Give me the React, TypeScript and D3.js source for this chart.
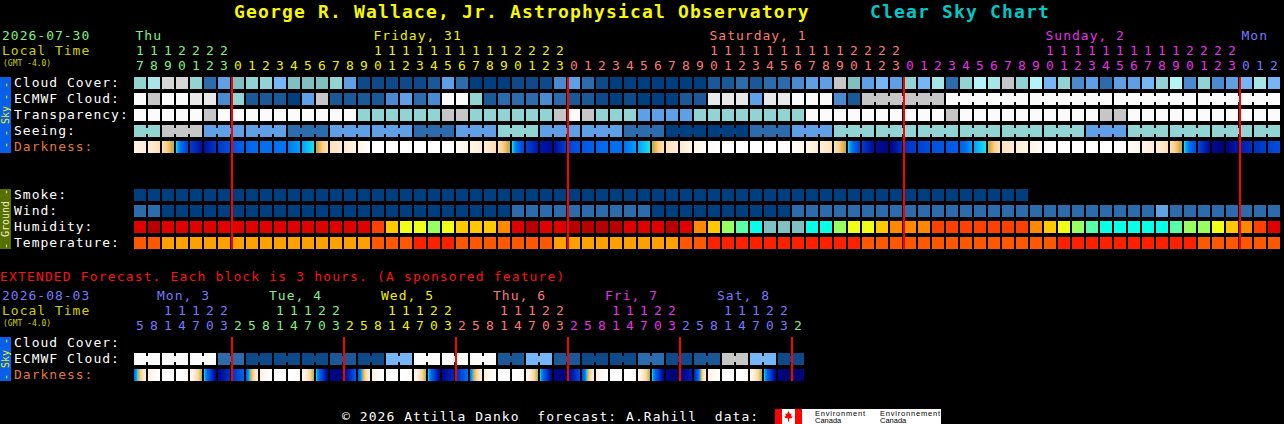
import * as React from 'react';
import * as d3 from 'd3';

const FONT = '"DejaVu Sans Mono", monospace';

// ---------------------------------------------------------------- text
const title = 'George R. Wallace, Jr. Astrophysical Observatory';
const chartName = 'Clear Sky Chart';
const extendedNote = 'EXTENDED Forecast. Each block is 3 hours. (A sponsored feature)';
const footer = '\u00a9 2026 Attilla Danko  forecast: A.Rahill  data:';

// ---------------------------------------------------------------- main (hourly)
const mainStart = new Date(2026, 6, 30, 17);
const mainDateLabel = '2026-07-30';
const mainDayLabels = ['Thu', 'Friday, 31', 'Saturday, 1', 'Sunday, 2', 'Mon'];

// sky condition codes, see skyColors
const cloudCover = [
  ...('89hh835788' + '6777851111' + '1253000111' + '4531000000' + '0223233455' +
    'g756586938' + 'a9g8a68453' + '5568a48456' + '96'),
];
const ecmwfCloud = [
  ...('wgwwii4822' + '205g222245' + '34ww823334' + '3221010002' + '2iii5iiwww' +
    '42ggggggww' + 'wwwwwwwwww' + 'wwwwwwwwww' + 'ww'),
];
const transparency = [
  ...('wwwwwg' + 'wwwwwwwwww' + '888888gg888888' + 'gwg888' + '5555' + '88888888' +
    'wwwwwwwwww' + 'g' + 'wwwwwwwwww' + 'gg' + 'wwwwwwwwwww'),
];
const seeing = [
  ...('88ggg555555333555555333555888' + '555555333000000333555' +
    '888888888888888888' + '555' + '88888888888'),
];
// darkness at each hour boundary (0 = daylight ... 9 = darkest)
const darkness = [
  1.0, 1.6, 2.3, 4.0, 6.6, 8.0, 6.8, 6.0, 5.4, 5.0, 5.0, 4.9, 4.4, 4.0, 2.2, 1.8, 1.0,
  0, 0, 0, 0, 0, 0, 0.3, 1.0, 1.6, 2.3, 4.0, 6.4, 7.8, 8.2, 6.4, 5.8, 5.4, 5.0, 5.0,
  4.4, 4.0, 2.2, 1.7, 0.9, 0.2, 0, 0, 0, 0, 0, 0.2, 0.9, 1.5, 2.2, 4.0, 6.6, 8.2, 8.6,
  7.0, 6.5, 6.0, 5.8, 5.5, 4.4, 4.0, 2.2, 1.7, 1.0, 0.3, 0, 0, 0, 0, 0, 0.2, 0.9, 1.6,
  2.3, 4.0, 6.2, 8.3, 8.8, 7.6, 7.0, 6.5, 6.0,
];
// ground: smoke ug/m3, wind mph, humidity %, temperature C
const smoke = [
  1, 1, 1, 1, 1, 1, 1, 1, 1, 1, 1, 1, 1, 1, 1, 1, 1, 1, 1, 1, 1, 1, 1, 1, 1, 1, 1, 1, 1, 1, 1, 1,
  1, 1, 1, 1, 1, 1, 1, 1, 1, 1, 1, 1, 1, 1, 1, 1, 1, 1, 1, 1, 1, 1, 1, 1, 1, 1, 1, 1, 1, 1, 1, 1,
];
const wind = [
  7, 8, 5, 4, 4, 3, 3, 3, 2, 2, 2, 2, 3, 3, 4, 4, 5, 5, 5, 4, 4, 4, 3, 3, 3, 4, 5,
  6, 7, 7, 8, 8, 8, 7, 7, 6, 6, 5, 5, 4, 4, 4, 3, 3, 4, 4, 5,
  6, 7, 7, 8, 8, 9, 9, 9, 8, 8, 8, 7, 7, 7, 8, 8, 9, 9, 10, 10, 11, 11, 10, 10, 11, 11,
  12, 11, 10, 10, 9, 9, 8, 8, 7,
];
const humidity = [
  91, 96, 90, 91, 92, 93, 93, 94, 94, 94, 93, 92, 91, 90, 89, 88, 86,
  82, 73, 68, 66, 63, 66, 71, 73, 74, 78,
  86, 95, 92, 93, 96, 97, 97, 96, 94, 92, 90, 95, 88,
  79, 71, 61, 57, 53, 48, 46, 47, 51, 54,
  62, 66, 69, 72, 76, 78, 79, 81, 82, 83, 83, 84, 84, 83,
  79, 74, 68, 63, 58, 54, 52, 51, 52, 54, 56, 61, 64, 67, 72, 77, 82, 87,
];
const temperature = [
  25, 25, 23, 23, 22, 22, 21, 21, 21, 20, 20, 20, 20, 21, 22, 23, 23,
  25, 26, 26, 27, 28, 28, 26, 26, 25, 25, 24, 24, 24,
  23, 23, 22, 22, 21, 21, 21, 22, 23, 25, 26,
  27, 28, 29, 29, 30, 30, 30, 29, 29, 28, 27,
  26, 26, 25, 25, 25, 24, 24, 24, 24, 24, 25, 25, 26, 26,
  27, 28, 29, 30, 30, 30, 29, 29, 28, 27, 26, 26, 25, 25, 24, 24,
];

// ---------------------------------------------------------------- extended (3 h blocks)
const extStart = new Date(2026, 7, 3, 5);
const extDateLabel = '2026-08-03';
const extDayLabels = ['Mon, 3', 'Tue, 4', 'Wed, 5', 'Thu, 6', 'Fri, 7', 'Sat, 8', ''];
const extEcmwfCloud = [...'wwwwww33111111221166wwwwww2266221111331122gg6611'];
const extDarkness = [
  5.2, 1.2, 0, 0, 0.3, 4.0, 8.5, 7.0, 5.4, 1.2, 0, 0, 0.3, 4.0, 8.6, 8.6, 5.6, 1.2, 0, 0,
  0.3, 4.0, 8.5, 7.2, 5.0, 1.2, 0, 0, 0.3, 4.0, 8.6, 8.6, 6.0, 1.2, 0, 0, 0.3, 4.0, 8.6,
  8.8, 7.5, 1.2, 0, 0, 0.3, 4.0, 8.6, 8.8, 8.6,
];

// ---------------------------------------------------------------- styles
const skyColors: Record<string, string> = {
  '0': '#003f7f', '1': '#0e4a8a', '2': '#1a5898', '3': '#2c6cac', '4': '#4a8ad0',
  '5': '#5f9fe5', '6': '#76b6f6', '7': '#80c0c0', '8': '#92d4d4', '9': '#a6e6e6',
  a: '#b4f4f4', g: '#c6c6c6', h: '#d6d6d6', i: '#e8e8e8', w: '#fbfbfb',
};
const dayColors = ['#80f080', '#f0f000', '#ff7878', '#e830e8', '#7878ff'];

const darkColor = d3
  .scaleLinear<string>()
  .domain([0, 1, 2, 3, 3.8, 4.0, 4.4, 5.0, 5.5, 6.0, 6.5, 7.0, 7.5, 8.0, 8.5, 9.0])
  .range([
    '#ffffff', '#fff5e6', '#fde6c6', '#f9d08e', '#f0a020', '#20e0e0', '#00a0ff', '#0070f0',
    '#0060e8', '#0050e0', '#0040d0', '#0030c0', '#0020b0', '#0010a0', '#000888', '#000060',
  ])
  .clamp(true);

const smokeColor = d3.scaleThreshold<number, string>().domain([2]).range(['#003f7f', '#2c6cac']);
const windColor = d3
  .scaleThreshold<number, string>()
  .domain([6, 12])
  .range(['#003f7f', '#2c6cac', '#62a2e2']);
const humidityColor = d3
  .scaleThreshold<number, string>()
  .domain([50, 55, 60, 65, 70, 75, 80, 85, 95])
  .range([
    '#80c0c0', '#08ffe8', '#58ffa8', '#98ff60', '#f0ff18', '#ffc800', '#ff8800', '#ff4000',
    '#e00000', '#b80000',
  ]);
const tempColor = d3
  .scaleThreshold<number, string>()
  .domain([24, 27])
  .range(['#ffa000', '#ff5800', '#ff2000']);

const BH = 12;
const X0 = 134;
const STEP = 14;

const bandFor = (n: number) =>
  d3
    .scaleBand<number>()
    .domain(d3.range(n))
    .range([X0, X0 + n * STEP - 2])
    .paddingInner(2 / STEP)
    .paddingOuter(0);

const dayColorOf = (d: Date) =>
  dayColors[d3.timeDay.count(d3.timeDay.floor(mainStart), d) % dayColors.length];

type Band = d3.ScaleBand<number>;

interface RowProps<T> {
  x: Band;
  y: number;
  values: T[];
  color: (v: T) => string;
  group?: (i: number) => number;
}

function BlockRow<T>({ x, y, values, color, group }: RowProps<T>) {
  const bw = x.bandwidth();
  return (
    <g shapeRendering="crispEdges">
      {values.map((v, i) => (
        <rect key={i} x={x(i)} y={y} width={bw} height={BH} fill={color(v)} />
      ))}
      {group &&
        values.map((v, i) =>
          i < values.length - 1 && group(i) === group(i + 1) && values[i + 1] === v ? (
            <rect
              key={`b${i}`}
              x={x(i)! + bw}
              y={y + 3}
              width={x.step() - bw}
              height={6}
              fill={color(v)}
            />
          ) : null
        )}
    </g>
  );
}

const DarkRow = ({ x, y, edges, id }: { x: Band; y: number; edges: number[]; id: string }) => {
  const stops = d3.range(0, 1.0001, 0.1);
  return (
    <g shapeRendering="crispEdges">
      <defs>
        {edges.slice(0, -1).map((v, i) => (
          <linearGradient key={i} id={`${id}${i}`} x1="0" x2="1" y1="0" y2="0">
            {stops.map((t) => (
              <stop
                key={t}
                offset={t}
                stopColor={darkColor(d3.interpolateNumber(v, edges[i + 1])(t))}
              />
            ))}
          </linearGradient>
        ))}
      </defs>
      {edges.slice(0, -1).map((_, i) => (
        <rect
          key={i}
          x={x(i)}
          y={y}
          width={x.bandwidth()}
          height={BH}
          fill={`url(#${id}${i})`}
        />
      ))}
    </g>
  );
};

interface HeaderProps {
  x: Band;
  dates: Date[];
  origin: Date;
  labels: string[];
  labelDx: number;
  yDay: number;
}

const HourHeader = ({ x, dates, origin, labels, labelDx, yDay }: HeaderProps) => {
  const cols = dates.map((d, i) => ({ d, i }));
  const byDay = d3.groups(cols, (c) => d3.timeDay.count(d3.timeDay.floor(origin), c.d));
  return (
    <g fontFamily={FONT} fontSize={13}>
      {byDay.map(([day, cs]) => {
        const label = labels[day];
        if (!label) return null;
        const first = cs.find((c) => c.d.getHours() >= 10) ?? cs[0];
        return (
          <text
            key={day}
            x={x(first.i)! + labelDx}
            y={yDay}
            fill={dayColorOf(first.d)}
            letterSpacing={1}
          >
            {label}
          </text>
        );
      })}
      {cols.map(({ d, i }) => {
        const h = d.getHours();
        const cx = x(i)! + x.bandwidth() / 2;
        return (
          <g key={i} fill={dayColorOf(d)} textAnchor="middle">
            {h >= 10 && (
              <text x={cx} y={yDay + 15}>
                {Math.floor(h / 10)}
              </text>
            )}
            <text x={cx} y={yDay + 30}>
              {h % 10}
            </text>
          </g>
        );
      })}
    </g>
  );
};

const SideBar = ({ y0, y1, fill, color, text }: { y0: number; y1: number; fill: string; color: string; text: string }) => (
  <g>
    <rect x={0} y={y0} width={11} height={y1 - y0} fill={fill} />
    <text
      transform={`translate(5.8,${(y0 + y1) / 2}) rotate(-90)`}
      textAnchor="middle"
      dominantBaseline="central"
      fontFamily={FONT}
      fontSize={10}
      fill={color}
      style={{ whiteSpace: 'pre' }}
    >
      {text}
    </text>
  </g>
);

const RowLabel = ({ y, text, color = '#ffffff' }: { y: number; text: string; color?: string }) => (
  <text x={14} y={y + 10} fill={color} fontFamily={FONT} fontSize={13} letterSpacing={1}>
    {text}
  </text>
);

const App = () => {
  const nMain = cloudCover.length;
  const nExt = extEcmwfCloud.length;
  const x = bandFor(nMain);
  const xe = bandFor(nExt);
  const mainDates = d3.range(nMain).map((i) => d3.timeHour.offset(mainStart, i));
  const extDates = d3.range(nExt).map((i) => d3.timeHour.offset(extStart, 3 * i));

  const midnights = (dates: Date[]) =>
    dates
      .map((d, i) => i)
      .filter((i) => i > 0 && dates[i].getDate() !== dates[i - 1].getDate());

  const absHour = (i: number) => i + mainStart.getHours();
  const seeingGroup = (i: number) => Math.floor((absHour(i) - 1) / 3);
  const ecmwfGroup = (i: number) => (i < 52 ? -1 - i : Math.floor((absHour(i) - 3) / 6));
  const extGroup = (i: number) => Math.floor(i / 2);

  const sky = (c: string) => skyColors[c];
  const rowsY = [77, 93, 109, 125, 141];
  const groundY = [189, 205, 221, 237];

  return (
    <>
      <style>{'body{margin:0;background:#000}'}</style>
      <svg width={1284} height={424} style={{ display: 'block', background: '#000' }}>
        <rect width={1284} height={424} fill="#000" />

        {/* title */}
        <g fontFamily={FONT} fontSize={18} fontWeight="bold" letterSpacing={1.16}>
          <text x={234} y={18} fill="#f8f800">
            {title}
          </text>
          <text x={870} y={18} fill="#00c8c8">
            {chartName}
          </text>
        </g>

        {/* main header */}
        <g fontFamily={FONT} fontSize={13} letterSpacing={1}>
          <text x={2} y={40} fill={dayColorOf(mainStart)}>
            {mainDateLabel}
          </text>
          <text x={2} y={55} fill="#d0d000">
            Local Time
          </text>
        </g>
        <text x={3} y={65.5} fill="#d0d000" fontFamily={FONT} fontSize={8}>
          (GMT -4.0)
        </text>
        <HourHeader x={x} dates={mainDates} origin={mainStart} labels={mainDayLabels} labelDx={1.5} yDay={40} />

        {/* sky rows */}
        <SideBar y0={77} y1={153} fill="#0860e8" color="#f0f000" text="- - Sky - -" />
        <RowLabel y={rowsY[0]} text="Cloud Cover:" />
        <RowLabel y={rowsY[1]} text="ECMWF Cloud:" />
        <RowLabel y={rowsY[2]} text="Transparency:" />
        <RowLabel y={rowsY[3]} text="Seeing:" />
        <RowLabel y={rowsY[4]} text="Darkness:" color="#e07838" />
        <BlockRow x={x} y={rowsY[0]} values={cloudCover} color={sky} />
        <BlockRow x={x} y={rowsY[1]} values={ecmwfCloud} color={sky} group={ecmwfGroup} />
        <BlockRow x={x} y={rowsY[2]} values={transparency} color={sky} />
        <BlockRow x={x} y={rowsY[3]} values={seeing} color={sky} group={seeingGroup} />
        <DarkRow x={x} y={rowsY[4]} edges={darkness} id="dk" />

        {/* ground rows */}
        <SideBar y0={189} y1={249} fill="#587000" color="#f0f0c8" text="- Ground -" />
        <RowLabel y={groundY[0]} text="Smoke:" />
        <RowLabel y={groundY[1]} text="Wind:" />
        <RowLabel y={groundY[2]} text="Humidity:" />
        <RowLabel y={groundY[3]} text="Temperature:" />
        <BlockRow x={x} y={groundY[0]} values={smoke} color={smokeColor} />
        <BlockRow x={x} y={groundY[1]} values={wind} color={windColor} />
        <BlockRow x={x} y={groundY[2]} values={humidity} color={humidityColor} />
        <BlockRow x={x} y={groundY[3]} values={temperature} color={tempColor} />

        {midnights(mainDates).map((i) => (
          <rect key={i} x={x(i)! - 1} y={77} width={2} height={172} fill="#ff0000" />
        ))}

        {/* extended forecast */}
        <text x={0} y={281} fill="#ff1010" fontFamily={FONT} fontSize={13} letterSpacing={1.15}>
          {extendedNote}
        </text>
        <g fontFamily={FONT} fontSize={13} letterSpacing={1}>
          <text x={2} y={300} fill={dayColorOf(extStart)}>
            {extDateLabel}
          </text>
          <text x={2} y={315} fill="#d0d000">
            Local Time
          </text>
        </g>
        <text x={3} y={325.5} fill="#d0d000" fontFamily={FONT} fontSize={8}>
          (GMT -4.0)
        </text>
        <HourHeader x={xe} dates={extDates} origin={extStart} labels={extDayLabels} labelDx={-5} yDay={300} />

        <SideBar y0={337} y1={381} fill="#0860e8" color="#f0f000" text="- Sky -" />
        <RowLabel y={337} text="Cloud Cover:" />
        <RowLabel y={353} text="ECMWF Cloud:" />
        <RowLabel y={369} text="Darkness:" color="#e07838" />
        <BlockRow x={xe} y={353} values={extEcmwfCloud} color={sky} group={extGroup} />
        <DarkRow x={xe} y={369} edges={extDarkness} id="xdk" />
        {midnights(extDates).map((i) => (
          <rect key={i} x={xe(i)! - 1} y={337} width={2} height={44} fill="#ff0000" />
        ))}

        {/* footer */}
        <text
          x={342}
          y={421}
          fill="#ffffff"
          fontFamily={FONT}
          fontSize={13}
          letterSpacing={1.05}
          style={{ whiteSpace: 'pre' }}
        >
          {footer}
        </text>
        <g>
          <rect x={775} y={409} width={166} height={15} fill="#ffffff" />
          <rect x={775} y={409} width={7} height={15} fill="#ff0000" />
          <rect x={795} y={409} width={7} height={15} fill="#ff0000" />
          <path d="M788.5,411 l1.5,3 1.5,-0.5 -0.5,3 1.5,-0.5 -0.5,2 -3,0.5 0,3 -1,0 0,-3 -3,-0.5 -0.5,-2 1.5,0.5 -0.5,-3 1.5,0.5z" fill="#ff0000" />
          <g fontFamily="Liberation Sans, sans-serif" fontSize={7.5} fill="#000">
            <text x={815} y={416} textLength={50}>Environment</text>
            <text x={815} y={423}>Canada</text>
            <text x={880} y={416} textLength={60}>Environnement</text>
            <text x={880} y={423}>Canada</text>
          </g>
        </g>
      </svg>
    </>
  );
};

export default App;
